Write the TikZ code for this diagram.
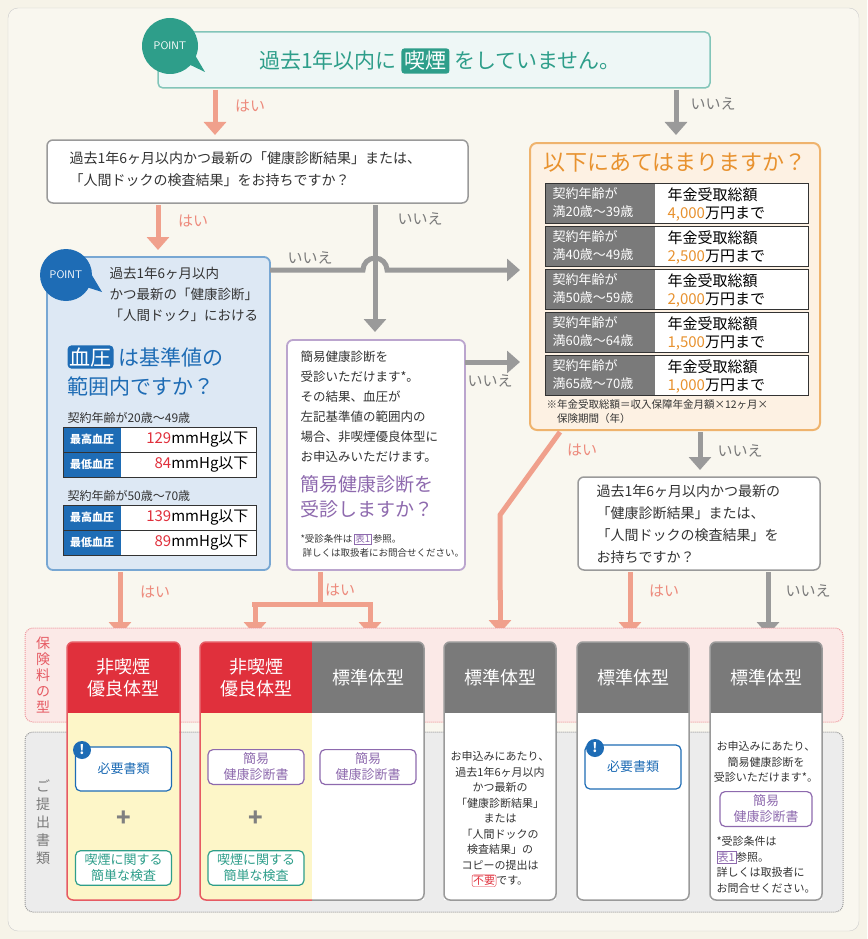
\documentclass[tikz,border=0pt]{standalone}
\usepackage{fontspec}
\setmainfont{Noto Sans CJK JP}
\usetikzlibrary{arrows.meta,shapes.callouts}
\definecolor{bg}{HTML}{F6F3E8}
\definecolor{teal}{HTML}{2E9E8A}
\definecolor{salmon}{HTML}{F0A08C}
\definecolor{gr}{HTML}{9A9A9A}
\definecolor{dgr}{HTML}{7A7A7A}
\definecolor{blu}{HTML}{1E6CB5}
\definecolor{lblu}{HTML}{DDE8F4}
\definecolor{pur}{HTML}{8E6AAE}
\definecolor{org}{HTML}{E8922F}
\definecolor{lorg}{HTML}{FDF1E3}
\definecolor{red}{HTML}{E0303C}
\definecolor{yel}{HTML}{FDF6C8}
\definecolor{pink}{HTML}{FBE9E7}
\definecolor{txt}{HTML}{333333}
\tikzset{
 yes/.style={salmon,line width=5pt,-{Triangle[length=13pt,width=22pt]}},
 no/.style={gr,line width=5pt,-{Triangle[length=13pt,width=22pt]}},
 yl/.style={salmon!80!red,font=\fontsize{15}{15}\selectfont},
 nl/.style={dgr,font=\fontsize{15}{15}\selectfont},
 qbox/.style={draw=gr,line width=1.5pt,fill=white,rounded corners=6pt},
 hdr/.style={text=white,font=\fontsize{18}{22}\selectfont,align=center},
 doc/.style={draw,line width=1.2pt,rounded corners=5pt,fill=white,align=center,font=\fontsize{13}{16}\selectfont,minimum width=96pt},
 sm/.style={text=txt,align=center,font=\fontsize{11}{15.5}\selectfont},
}
\begin{document}
\begin{tikzpicture}[x=1pt,y=-1pt]
\useasboundingbox (0,0) rectangle (867,939);
\fill[bg] (0,0) rectangle (867,939);
\draw[gr!50,rounded corners=10pt,fill=white!30!bg] (8,8) rectangle (859,931);
% top
\draw[teal!60,line width=1.5pt,fill=teal!8,rounded corners=5pt] (158,32) rectangle (710,88);
\node[text=teal,font=\fontsize{21}{21}\selectfont] (top) at (440,61) {過去1年以内に \tikz[baseline=(k.base)]\node[fill=teal,text=white,rounded corners=3pt,inner sep=3pt](k){喫煙}; をしていません。};
\fill[teal] (180,60) -- (205,72) -- (192,50) -- cycle;
\node[circle,fill=teal,text=white,minimum size=56pt,font=\sffamily\fontsize{11}{11}\selectfont] (p1) at (170,46) {POINT};
% arrows top
\draw[yes] (215,90) -- (215,135); \node[yl] at (250,106) {はい};
\draw[no] (676,90) -- (676,135); \node[nl] at (713,104) {いいえ};
% Q2
\draw[qbox] (47,140) rectangle (468,203);
\node[anchor=north west,text=txt,align=left,font=\fontsize{14}{22}\selectfont] (q2) at (66,148) {過去1年6ヶ月以内かつ最新の「健康診断結果」または、\\「人間ドックの検査結果」をお持ちですか？};
\draw[yes] (158,205) -- (158,250); \node[yl] at (193,221) {はい};
\draw[no] (375,205) -- (375,332); \node[nl] at (420,219) {いいえ};
% blue box
\draw[blu!60,line width=1.8pt,fill=lblu,rounded corners=6pt] (47,257) rectangle (270,570);
\fill[blu] (80,285) -- (102,292) -- (90,272) -- cycle;
\node[circle,fill=blu,text=white,minimum size=52pt,font=\sffamily\fontsize{11}{11}\selectfont] (p2) at (66,275) {POINT};
\node[anchor=north west,text=txt,align=left,font=\fontsize{13.5}{21}\selectfont] at (106,264) {過去1年6ヶ月以内\\かつ最新の「健康診断」\\「人間ドック」における};
\node[anchor=west,text=blu,font=\fontsize{21}{21}\selectfont] at (64,357) {\tikz[baseline=(k.base)]\node[fill=blu,text=white,rounded corners=4pt,inner sep=2pt](k){血圧}; は基準値の};
\node[anchor=west,text=blu,font=\fontsize{21}{21}\selectfont] at (64,386) {範囲内ですか？};
\node[anchor=west,text=txt,font=\fontsize{12}{12}\selectfont] at (64,418) {契約年齢が20歳～49歳};
\node[anchor=west,text=txt,font=\fontsize{12}{12}\selectfont] at (64,496) {契約年齢が50歳～70歳};
\foreach \y/\a/\n in {427/最高血圧/129,452/最低血圧/84,505/最高血圧/139,530/最低血圧/89}{
 \fill[white] (63,\y) rectangle (256,\y+25);
 \fill[blu] (63,\y) rectangle (121,\y+25);
 \node[text=white,font=\bfseries\fontsize{11}{11}\selectfont] at (92,\y+12.5) {\a};
 \node[anchor=east,font=\fontsize{15}{15}\selectfont] at (252,\y+12.5) {\textcolor{red}{\n}mmHg以下};
}
\draw[txt,line width=1pt] (63,427) rectangle (256,477) (63,452) -- (256,452) (63,505) rectangle (256,555) (63,530) -- (256,530);
% hop line
\draw[no] (270,270) -- (363,270) arc[start angle=180,end angle=360,radius=12] -- (520,270);
\node[nl] at (310,258) {いいえ};
% purple box
\draw[pur!60,line width=1.8pt,fill=white,rounded corners=6pt] (287,340) rectangle (465,570);
\node[anchor=north west,text=txt,align=left,font=\fontsize{12.5}{20}\selectfont] at (297,347) {簡易健康診断を\\受診いただけます*。\\その結果、血圧が\\左記基準値の範囲内の\\場合、非喫煙優良体型に\\お申込みいただけます。};
\node[anchor=north west,text=pur,align=left,font=\fontsize{19}{25}\selectfont] at (297,472) {簡易健康診断を\\受診しますか？};
\node[anchor=north west,text=txt,align=left,font=\fontsize{9.5}{14}\selectfont] at (297,530) {*受診条件は\,\tikz[baseline=(k.base)]\node[draw=pur,inner sep=1pt,text=pur](k){表1};\,参照。\\\ 詳しくは取扱者にお問合せください。};
\draw[no] (465,362) -- (520,362); \node[nl] at (490,381) {いいえ};
% orange
\draw[org!70,line width=2pt,fill=lorg,rounded corners=7pt] (530,143) rectangle (820,430);
\node[text=org,font=\fontsize{22}{22}\selectfont] (q4) at (675,163) {以下にあてはまりますか？};
\foreach \i/\a/\b in {0/20/39,1/40/49,2/50/59,3/60/64,4/65/70}{
 \pgfmathsetmacro\y{183+43*\i}
 \fill[white] (545,\y) rectangle (808,\y+40);
 \fill[dgr] (545,\y) rectangle (655,\y+40);
 \draw[txt] (545,\y) rectangle (808,\y+40);
 \node[anchor=north west,text=white,align=left,font=\fontsize{13}{18}\selectfont] at (549,\y+1) {契約年齢が\\満\a 歳～\b 歳};
}
\foreach \i/\v in {0/{4,000},1/{2,500},2/{2,000},3/{1,500},4/{1,000}}{
 \pgfmathsetmacro\y{183+43*\i}
 \node[anchor=north west,text=black,align=left,font=\fontsize{15}{18}\selectfont] at (664,\y+1) {年金受取総額\\\textcolor{org}{\v}万円まで};
}
\node[anchor=north west,text=txt,align=left,font=\fontsize{10.5}{14}\selectfont] at (543,396) {※年金受取総額＝収入保障年金月額×12ヶ月×\\\quad 保険期間（年）};
\draw[salmon,line width=5pt] (560,432) -- (500,515) -- (500,600);
\draw[yes] (500,590) -- (500,633); \node[yl] at (582,450) {はい};
\draw[no] (700,432) -- (700,470); \node[nl] at (740,451) {いいえ};
\draw[qbox] (578,477) rectangle (820,570);
\node[anchor=north west,text=txt,align=left,font=\fontsize{14}{22}\selectfont] at (593,481) {過去1年6ヶ月以内かつ最新の\\「健康診断結果」または、\\「人間ドックの検査結果」を\\お持ちですか？};
\draw[yes] (630,572) -- (630,635); \node[yl] at (664,591) {はい};
\draw[no] (768,572) -- (768,635); \node[nl] at (808,591) {いいえ};
\draw[yes] (120,572) -- (120,635); \node[yl] at (155,592) {はい};
\draw[salmon,line width=5pt] (320,572) -- (320,604) (252,604) -- (373,604);
\draw[yes] (255,602) -- (255,635); \draw[yes] (370,602) -- (370,635);
\node[yl] at (340,590) {はい};
% regions
\draw[red!50,densely dotted,line width=1pt,fill=pink,rounded corners=8pt] (25,628) rectangle (843,722);
\draw[gr,densely dotted,line width=1pt,fill=gray!15,rounded corners=8pt] (25,732) rectangle (843,912);
\node[text=red!80,align=center,font=\fontsize{14}{16}\selectfont] at (43,675) {保\\険\\料\\の\\型};
\node[text=dgr,align=center,font=\fontsize{14}{18}\selectfont] at (43,822) {ご\\提\\出\\書\\類};
% columns
\foreach \x/\c in {67/yel,200/yel,312/white,444/white,577/white,710/white}{
 \fill[\c] (\x,700) rectangle (\x+112,900);
}
\fill[red,rounded corners=6pt] (67,642) rectangle (180,720); \fill[red] (67,700) rectangle (180,713);
\fill[yel] (67,713) rectangle (180,725);
\draw[red!80,line width=1.5pt,rounded corners=6pt] (67,642) rectangle (180,900);
\fill[red,rounded corners=6pt] (200,642) rectangle (312,720);
\fill[dgr,rounded corners=6pt] (312,642) rectangle (424,720);
\fill[red] (300,642) rectangle (312,713); \fill[dgr] (312,642) rectangle (324,713);
\fill[yel] (200,713) rectangle (312,725); \fill[white] (312,713) rectangle (424,725);
\draw[red!80,line width=1.5pt,rounded corners=6pt] (312,900) -- (200,900) -- (200,642) -- (312,642);
\draw[gr,line width=1.5pt,rounded corners=6pt] (312,642) -- (424,642) -- (424,900) -- (312,900);
\foreach \x in {444,577,710}{
 \fill[dgr,rounded corners=6pt] (\x,642) rectangle (\x+112,720);
 \fill[white] (\x,713) rectangle (\x+112,725);
 \draw[gr,line width=1.5pt,rounded corners=6pt] (\x,642) rectangle (\x+112,900);
}
\node[hdr] at (123.5,678) {非喫煙\\優良体型};
\node[hdr] at (256,678) {非喫煙\\優良体型};
\foreach \x in {368,500,633,766} \node[hdr] at (\x,678) {標準体型};
% docs
\node[doc,draw=blu,text=blu,minimum height=44pt] (d1) at (123.5,769) {必要書類};
\node[doc,draw=blu,text=blu,minimum height=44pt] (d5) at (633,767) {必要書類};
\foreach \x/\y in {74/746,587/744} \node[circle,fill=blu,text=white,inner sep=0pt,minimum size=18pt,font=\bfseries\fontsize{13}{13}\selectfont] at (\x+8,\y+4) {!};
\node[doc,draw=pur,text=pur] (d2) at (256,767) {簡易\\健康診断書};
\node[doc,draw=pur,text=pur] (d3) at (368,767) {簡易\\健康診断書};
\node[doc,draw=pur,text=pur,minimum width=92pt] (d6) at (766,809) {簡易\\健康診断書};
\foreach \x in {123.5,256} {
 \node[text=gray,font=\bfseries\fontsize{24}{24}\selectfont] at (\x,819) {+};
 \node[doc,draw=teal,text=teal] at (\x,868) {喫煙に関する\\簡単な検査};
}
\node[sm] at (500,819) {お申込みにあたり、\\過去1年6ヶ月以内\\かつ最新の\\「健康診断結果」\\または\\「人間ドックの\\検査結果」の\\コピーの提出は\\\tikz[baseline=(k.base)]\node[draw=red,text=red,rounded corners=2pt,inner sep=1pt](k){不要};です。};
\node[sm] at (766,762) {お申込みにあたり、\\簡易健康診断を\\受診いただけます*。};
\node[sm,align=left] at (766,865) {*受診条件は\\\tikz[baseline=(k.base)]\node[draw=pur,text=pur,inner sep=1pt](k){表1};参照。\\詳しくは取扱者に\\お問合せください。};
\end{tikzpicture}
\end{document}
